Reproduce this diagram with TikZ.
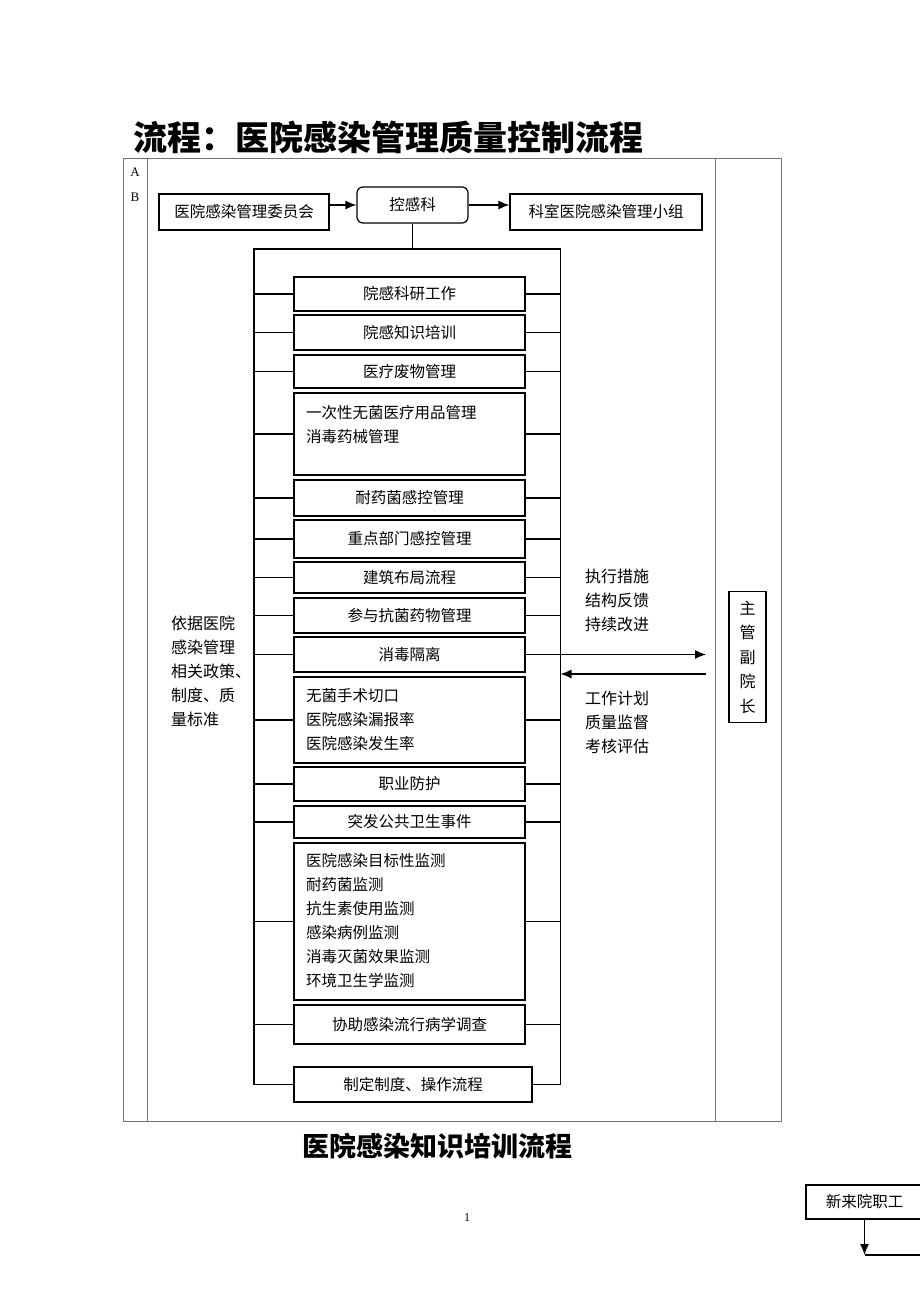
\documentclass[tikz,border=0pt]{standalone}
\usepackage{fontspec}
\setmainfont{Liberation Serif}
\newfontfamily\cjk{Noto Sans CJK SC}
\usetikzlibrary{arrows.meta}
\tikzset{
  box/.style={draw=black, line width=1.2pt, inner sep=0pt, align=center,
    font=\cjk\fontsize{15.5}{24}\selectfont},
  ln/.style={draw=black, line width=1.3pt},
  tbl/.style={draw=black!55, line width=1pt},
  arr/.style={draw=black, line width=1.3pt, -{Latex[length=11pt,width=9pt]}},
  txt/.style={inner sep=0pt, align=left, font=\cjk\fontsize{16}{24}\selectfont},
  multi/.style={inner sep=0pt, align=left, anchor=west, font=\cjk\fontsize{15.5}{24}\selectfont},
  ltr/.style={inner sep=0pt, font=\fontsize{13}{15}\selectfont},
  ttl/.style={inner sep=0pt, anchor=west},
}
\begin{document}
\begin{tikzpicture}[x=1pt,y=-1pt]
\path[use as bounding box] (0,0) rectangle (920,1302);
\clip (0,0) rectangle (920,1302);
\fill[white] (0,0) rectangle (920,1302);

% titles
\node[ttl, font=\cjk\bfseries\fontsize{34}{36}\selectfont] (title1) at (133,137) {流程：医院感染管理质量控制流程};
\node[ttl, font=\cjk\bfseries\fontsize{27}{30}\selectfont] (title2) at (302,1146) {医院感染知识培训流程};
\node[ltr, font=\fontsize{12}{14}\selectfont] (pg) at (467,1218) {1};

% table frame
\draw[tbl] (123,158) rectangle (781,1121);
\draw[tbl] (147.5,158) -- (147.5,1121);
\draw[tbl] (715.5,158) -- (715.5,1121);
\node[ltr] (la) at (135,172) {A};
\node[ltr] (lb) at (135,197) {B};

% top row
\node[box, minimum width=170, minimum height=36] (wyh) at (244,212) {医院感染管理委员会};
\node[box, rounded corners=6pt, minimum width=111, minimum height=36] (kgk) at (412.5,205) {控感科};
\node[box, minimum width=192, minimum height=36] (xz) at (606,212) {科室医院感染管理小组};
\draw[arr] (kgk.west -| wyh.east) -- (kgk.west);
\draw[arr] (kgk.east) -- (kgk.east -| xz.west);

% bracket frame
\coordinate (ftl) at (254,249);
\coordinate (ftr) at (560.5,249);
\coordinate (fbl) at (254,1084.5);
\coordinate (fbr) at (560.5,1084.5);
\draw[ln] (kgk.south) -- (kgk.south |- ftl);
\draw[ln] (fbl) -- (ftl) -- (ftr) -- (fbr);

% boxes
\node[box, minimum width=231, minimum height=34] (b1) at (409.5,294) {院感科研工作};
\node[box, minimum width=231, minimum height=35] (b2) at (409.5,332.5) {院感知识培训};
\node[box, minimum width=231, minimum height=33] (b3) at (409.5,371.5) {医疗废物管理};
\node[box, minimum width=231, minimum height=82] (b4) at (409.5,434) {};
\node[multi] (t4) at (306,424.5) {一次性无菌医疗用品管理\\消毒药械管理};
\node[box, minimum width=231, minimum height=36] (b5) at (409.5,498) {耐药菌感控管理};
\node[box, minimum width=231, minimum height=38] (b6) at (409.5,539) {重点部门感控管理};
\node[box, minimum width=231, minimum height=31] (b7) at (409.5,577.5) {建筑布局流程};
\node[box, minimum width=231, minimum height=35] (b8) at (409.5,615.5) {参与抗菌药物管理};
\node[box, minimum width=231, minimum height=35] (b9) at (409.5,654.5) {消毒隔离};
\node[box, minimum width=231, minimum height=86] (b10) at (409.5,720) {};
\node[multi] (t10) at (306,720) {无菌手术切口\\医院感染漏报率\\医院感染发生率};
\node[box, minimum width=231, minimum height=34] (b11) at (409.5,784) {职业防护};
\node[box, minimum width=231, minimum height=32] (b12) at (409.5,822) {突发公共卫生事件};
\node[box, minimum width=231, minimum height=157] (b13) at (409.5,921.5) {};
\node[multi] (t13) at (306,921) {医院感染目标性监测\\耐药菌监测\\抗生素使用监测\\感染病例监测\\消毒灭菌效果监测\\环境卫生学监测};
\node[box, minimum width=231, minimum height=39] (b14) at (409.5,1024.5) {协助感染流行病学调查};
\node[box, minimum width=238, minimum height=35] (b15) at (413,1084.5) {制定制度、操作流程};

% connectors
\foreach \b in {b1,b2,b3,b4,b5,b6,b7,b8,b9,b10,b11,b12,b13,b14,b15}{
  \draw[ln] (\b.west) -- (\b.west -| ftl);
}
\foreach \b in {b1,b2,b3,b4,b5,b6,b7,b8,b10,b11,b12,b13,b14,b15}{
  \draw[ln] (\b.east) -- (\b.east -| ftr);
}

% side texts
\node[txt, anchor=west] (lt) at (171,671) {依据医院\\感染管理\\相关政策、\\制度、质\\量标准};
\node[txt, anchor=west] (rt1) at (585,600) {执行措施\\结构反馈\\持续改进};
\node[txt, anchor=west] (rt2) at (585,722) {工作计划\\质量监督\\考核评估};

% vice president
\node[box, font=\cjk\fontsize{16}{24.5}\selectfont, minimum width=37, minimum height=131] (vp) at (747.5,657) {主\\管\\副\\院\\长};
\coordinate (a1) at (706,653);
\coordinate (a2) at (706,674);
\draw[arr] (b9.east) -- (b9.east -| a1);
\draw[arr] (a2) -- (a2 -| ftr);

% next chart fragment
\node[box, minimum width=117, minimum height=34] (nb) at (864.5,1202) {新来院职工};
\coordinate (nl) at (864.5,1255);
\coordinate (nr) at (930,1255);
\draw[arr] (nb.south) -- (nl);
\draw[ln] (nl) -- (nr);
\end{tikzpicture}
\end{document}
